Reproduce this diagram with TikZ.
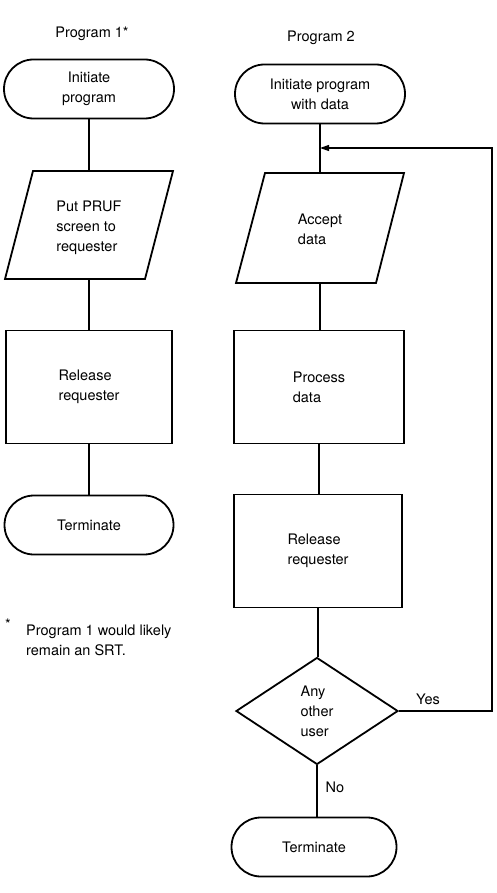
\documentclass[tikz,border=0pt]{standalone}
\usepackage{fontspec}
\setmainfont{TeX Gyre Heros}
\usetikzlibrary{shapes.misc,shapes.geometric,arrows.meta}
\begin{document}
\begin{tikzpicture}[x=1pt,y=-1pt,
  every node/.style={font=\fontsize{14.5}{20}\selectfont},
  term/.style={draw,rounded rectangle,line width=1.8pt,minimum height=59pt,inner sep=0pt,align=center},
  proc/.style={draw,rectangle,line width=1.8pt,minimum height=113pt,inner sep=0pt,align=left},
  shp/.style={draw,line width=1.8pt,line join=miter},
  txt/.style={inner sep=0pt,align=left},
  conn/.style={draw,line width=1.2pt},
  dec/.style={draw,diamond,line width=1.8pt,minimum width=162pt,minimum height=107pt,inner sep=0pt,aspect=1.5,align=left}]
\useasboundingbox (0,0) rectangle (497,893);

% titles
\node (h1) at (92,34) {Program 1*};
\node (h2) at (321,38) {Program 2};

% ---- Program 1 ----
\node[term,minimum width=170pt] (t1) at (89,89) {Initiate\\program};
\node[txt] (p1) at (89,228) {Put PRUF\\screen to\\requester};
\draw[shp] (33,171) -- (173,171) -- (145,279) -- (5,279) -- cycle;
\coordinate (p1n) at (89,171);
\coordinate (p1s) at (89,279);
\node[proc,minimum width=166pt] (r1) at (89,387) {Release\\requester};
\node[term,minimum width=169pt] (e1) at (89,525) {Terminate};

\draw[conn] (t1.south) -- (p1n);
\draw[conn] (p1s) -- (r1.north);
\draw[conn] (r1.south) -- (e1.north);

% footnote
\node[anchor=center] (star) at (8,624) {*};
\node[txt,anchor=west] (fn) at (26,640) {Program 1 would likely\\remain an SRT.};

% ---- Program 2 ----
\node[term,minimum width=170pt,align=center] (t2) at (320,94) {Initiate program\\with data};
\node[txt] (p2) at (320,229) {Accept\\data};
\draw[shp] (265,173) -- (404,173) -- (376,283) -- (236,283) -- cycle;
\coordinate (p2n) at (320,173);
\coordinate (p2s) at (320,283);
\coordinate (join) at (320,148);
\node[proc,minimum width=170pt] (r2) at (319,387) {Process\\data};
\node[proc,minimum width=168pt] (r3) at (318,551) {Release\\requester};
\node[dec] (d) at (317,711) {Any\\other\\user};
\node[term,minimum width=165pt] (e2) at (314,847) {Terminate};

\draw[conn] (t2.south) -- (p2n);
\draw[conn] (p2s) -- (r2.north -| p2s);
\draw[conn] (r2.south) -- (r3.north -| r2.south);
\draw[conn] (r3.south) -- (d.north -| r3.south);
\draw[conn] (d.south) -- (e2.north -| d.south);

\coordinate (fb) at (492,711);
\draw[conn,-{Triangle[length=9pt,width=6pt]}] (d.east) -- (fb) |- (join);

\node (yes) at (428,699) {Yes};
\node (no) at (335,787) {No};
\end{tikzpicture}
\end{document}
